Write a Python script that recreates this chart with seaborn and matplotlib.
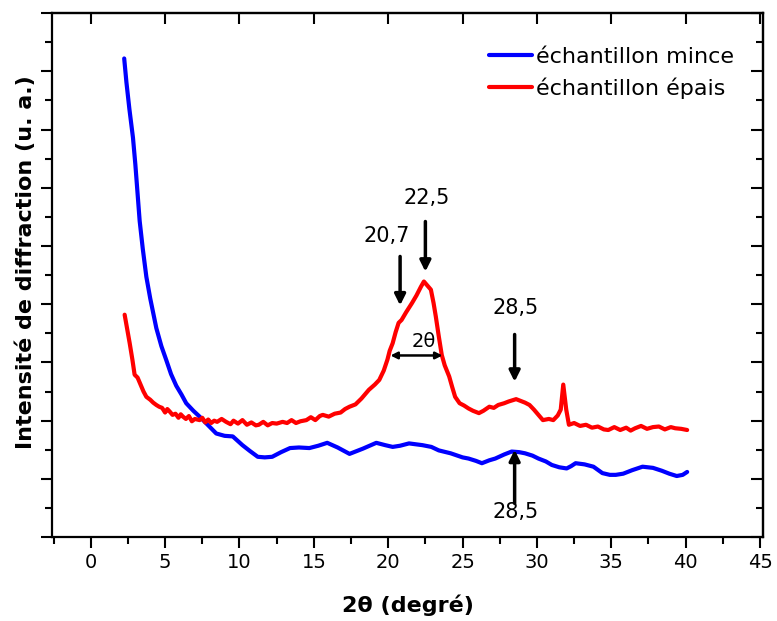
import matplotlib
matplotlib.use("Agg")
import matplotlib.pyplot as plt
from matplotlib.ticker import MultipleLocator, NullFormatter
import seaborn as sns
import pandas as pd

# --- data (2theta in degrees, intensity in arbitrary units) ---
mince_x = [2.25, 2.4, 2.6, 2.84, 3.0, 3.29, 3.5, 3.74, 4.0, 4.41, 4.75, 5.08, 5.4, 5.75,
           6.1, 6.42, 6.9, 7.32, 7.9, 8.44, 9.0, 9.55, 10.2, 10.7, 11.23, 11.7, 12.2, 12.8,
           13.4, 14.0, 14.7, 15.3, 15.9, 16.6, 17.4, 18.3, 19.2, 19.8, 20.3, 20.8, 21.4,
           22.3, 22.9, 23.4, 24.2, 25.0, 25.4, 25.9, 26.3, 26.8, 27.2, 27.8, 28.3, 28.8,
           29.2, 29.7, 30.1, 30.6, 31.0, 31.5, 32.0, 32.3, 32.6, 33.2, 33.8, 34.4, 34.9,
           35.3, 35.8, 36.4, 37.1, 37.8, 38.4, 38.9, 39.4, 39.8, 40.1]
mince_y = [8.22, 7.81, 7.35, 6.86, 6.4, 5.43, 4.95, 4.47, 4.1, 3.59, 3.28, 3.04, 2.80, 2.60,
           2.45, 2.30, 2.17, 2.07, 1.92, 1.78, 1.74, 1.73, 1.58, 1.48, 1.38, 1.37, 1.38, 1.46,
           1.53, 1.54, 1.53, 1.57, 1.62, 1.54, 1.43, 1.52, 1.62, 1.58, 1.55, 1.57, 1.61,
           1.58, 1.55, 1.49, 1.44, 1.37, 1.35, 1.31, 1.27, 1.32, 1.35, 1.42, 1.47, 1.46,
           1.44, 1.40, 1.35, 1.30, 1.24, 1.20, 1.18, 1.22, 1.27, 1.25, 1.21, 1.10, 1.07,
           1.07, 1.09, 1.15, 1.21, 1.19, 1.14, 1.09, 1.05, 1.07, 1.12]

epais_x = [2.28, 2.45, 2.62, 2.8, 2.95, 3.15, 3.4, 3.55, 3.74, 4.0, 4.2, 4.41, 4.6, 4.8,
           5.0, 5.15, 5.3, 5.5, 5.7, 5.9, 6.05, 6.2, 6.4, 6.6, 6.8, 7.0, 7.32, 7.5, 7.7,
           7.9, 8.1, 8.3, 8.5, 8.8, 9.1, 9.4, 9.6, 9.9, 10.2, 10.5, 10.8, 11.1, 11.3, 11.6,
           11.9, 12.2, 12.5, 12.9, 13.2, 13.5, 13.8, 14.1, 14.5, 14.8, 15.1, 15.4, 15.6,
           16.0, 16.4, 16.8, 17.1, 17.4, 17.8, 18.2, 18.7, 19.1, 19.4, 19.7, 19.95, 20.1,
           20.3, 20.5, 20.7, 20.9, 21.2, 21.6, 21.9, 22.2, 22.4, 22.6, 22.87, 23.05, 23.2,
           23.4, 23.6, 23.8, 24.1, 24.3, 24.5, 24.8, 25.1, 25.4, 25.7, 26.1, 26.4, 26.8,
           27.1, 27.4, 27.8, 28.1, 28.6, 28.9, 29.2, 29.5, 29.8, 30.1, 30.4, 30.8, 31.1,
           31.4, 31.6, 31.7, 31.77, 31.85, 31.97, 32.15, 32.5, 32.9, 33.3, 33.7, 34.1,
           34.5, 34.8, 35.2, 35.6, 36.0, 36.3, 36.6, 37.0, 37.4, 37.8, 38.2, 38.6, 39.0,
           39.3, 39.7, 40.1]
epais_y = [3.82, 3.58, 3.33, 3.05, 2.79, 2.74, 2.59, 2.50, 2.41, 2.36, 2.31, 2.27, 2.24, 2.22,
           2.14, 2.20, 2.16, 2.10, 2.12, 2.05, 2.11, 2.07, 2.03, 2.08, 1.99, 2.03, 2.01, 2.05,
           1.97, 2.02, 1.96, 2.00, 1.98, 2.03, 1.98, 1.94, 2.00, 1.95, 2.01, 1.93, 1.97, 1.92,
           1.93, 1.98, 1.92, 1.96, 1.95, 1.98, 1.96, 2.01, 1.96, 1.99, 2.01, 2.06, 2.01, 2.08,
           2.10, 2.07, 2.12, 2.14, 2.20, 2.24, 2.28, 2.38, 2.53, 2.62, 2.70, 2.86, 3.05, 3.20,
           3.33, 3.52, 3.68, 3.73, 3.86, 4.02, 4.15, 4.30, 4.39, 4.33, 4.25, 4.02, 3.79,
           3.45, 3.13, 2.95, 2.76, 2.58, 2.41, 2.30, 2.26, 2.21, 2.17, 2.13, 2.17, 2.24,
           2.22, 2.27, 2.30, 2.33, 2.37, 2.34, 2.31, 2.27, 2.19, 2.10, 2.01, 2.03, 2.01,
           2.09, 2.19, 2.45, 2.62, 2.45, 2.19, 1.93, 1.96, 1.91, 1.93, 1.88, 1.90,
           1.85, 1.84, 1.89, 1.84, 1.88, 1.83, 1.87, 1.91, 1.86, 1.89, 1.90, 1.85, 1.89,
           1.87, 1.86, 1.84]

labels = ["échantillon mince", "échantillon épais"]
colors = ["blue", "red"]

df = pd.concat([
    pd.DataFrame({"x": mince_x, "y": mince_y, "echantillon": labels[0]}),
    pd.DataFrame({"x": epais_x, "y": epais_y, "echantillon": labels[1]}),
])

sns.set_style("ticks")
plt.rcParams["font.family"] = ["DejaVu Sans"]
plt.rcParams.update({"text.color": "black", "axes.labelcolor": "black",
                     "xtick.color": "black", "ytick.color": "black"})

fig = plt.figure(figsize=(7.77, 6.21), dpi=100)
ax = fig.add_axes([0.067, 0.135, 0.915, 0.844])

sns.lineplot(data=df, x="x", y="y", hue="echantillon", palette=dict(zip(labels, colors)),
             estimator=None, sort=False, linewidth=3, ax=ax)

ax.set_xlim(-2.6, 45.2)
ax.set_ylim(0, 9)

# axes: outward ticks on bottom/left, inward on top/right
ax.xaxis.set_major_locator(MultipleLocator(5))
ax.xaxis.set_minor_locator(MultipleLocator(2.5))
ax.yaxis.set_major_locator(MultipleLocator(1))
ax.yaxis.set_minor_locator(MultipleLocator(0.5))
ax.yaxis.set_major_formatter(NullFormatter())
ax.tick_params(axis="both", which="major", direction="out", length=8, width=1.5,
               labelsize=14, colors="black")
ax.tick_params(axis="both", which="minor", direction="out", length=5, width=1.5)
for s in ax.spines.values():
    s.set_linewidth(1.6)
    s.set_color("black")

top = ax.secondary_xaxis("top")
top.xaxis.set_major_locator(MultipleLocator(5))
top.tick_params(direction="in", length=8, width=1.5, labeltop=False)
top.spines["top"].set_linewidth(1.6)

right = ax.secondary_yaxis("right")
right.yaxis.set_major_locator(MultipleLocator(1))
right.yaxis.set_minor_locator(MultipleLocator(0.5))
right.tick_params(which="major", direction="in", length=9, width=1.5, labelright=False)
right.tick_params(which="minor", direction="in", length=5, width=1.5)
right.spines["right"].set_linewidth(1.6)

ax.set_xlabel("2θ (degré)", fontsize=16, fontweight="bold", labelpad=16)
ax.set_ylabel("Intensité de diffraction (u. a.)", fontsize=16, fontweight="bold")
ax.yaxis.set_label_coords(-0.022, 0.525)

leg = ax.legend(loc="upper right", frameon=False, fontsize=16, handlelength=1.9,
                handletextpad=0.2, labelspacing=0.45, borderaxespad=0.9,
                bbox_to_anchor=(1.0, 0.99))
for t in leg.get_texts():
    t.set_color("black")

# peak markers
arrow = dict(arrowstyle="-|>", color="black", lw=2.5, mutation_scale=16, shrinkA=0, shrinkB=0)
ax.annotate("", xy=(22.5, 4.56), xytext=(22.5, 5.42), arrowprops=arrow)
ax.text(22.6, 5.83, "22,5", fontsize=15, ha="center", va="center")
ax.annotate("", xy=(20.8, 3.98), xytext=(20.8, 4.82), arrowprops=arrow)
ax.text(19.9, 5.18, "20,7", fontsize=15, ha="center", va="center")
ax.annotate("", xy=(28.5, 2.67), xytext=(28.5, 3.48), arrowprops=arrow)
ax.text(28.6, 3.94, "28,5", fontsize=15, ha="center", va="center")
ax.annotate("", xy=(28.5, 1.50), xytext=(28.5, 0.58), arrowprops=arrow)
ax.text(28.6, 0.43, "28,5", fontsize=15, ha="center", va="center")
ax.annotate("", xy=(20.15, 3.12), xytext=(23.65, 3.12),
            arrowprops=dict(arrowstyle="<|-|>", color="black", lw=1.8, mutation_scale=10,
                            shrinkA=0, shrinkB=0))
ax.text(22.4, 3.36, "2θ", fontsize=14, ha="center", va="center")

fig.savefig("out.png", dpi=100)
plt.close(fig)
